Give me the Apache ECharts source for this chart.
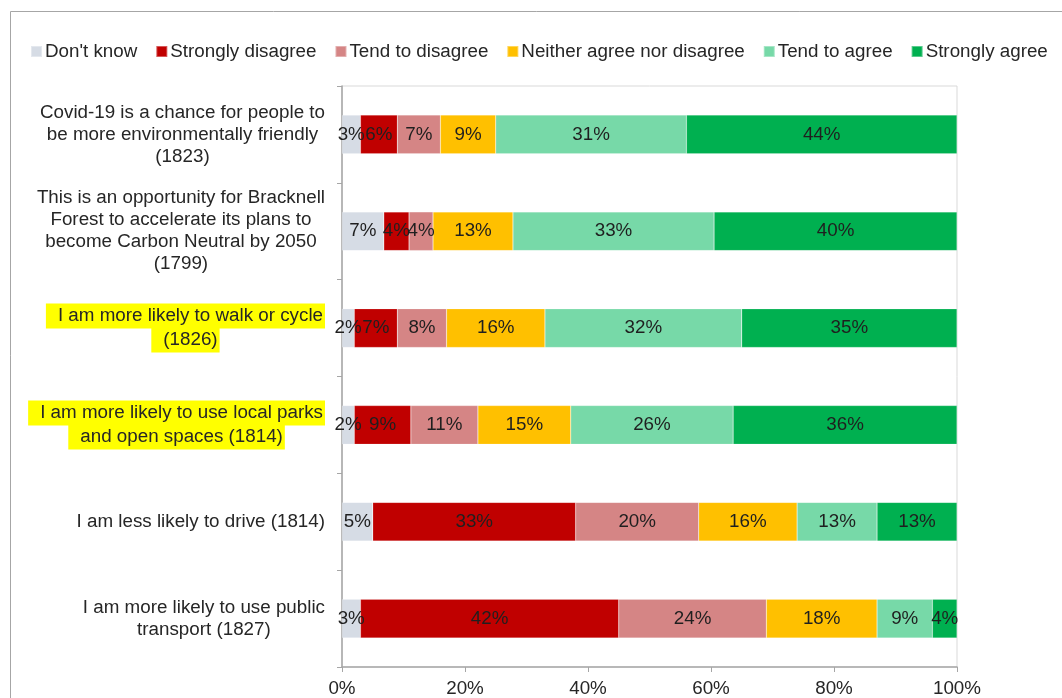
<!DOCTYPE html>
<html>
<head>
<meta charset="utf-8">
<title>Covid-19 attitudes</title>
<script src="https://cdn.jsdelivr.net/npm/echarts@6/dist/echarts.min.js"></script>
<style>
  html, body { margin: 0; padding: 0; background: #fff; }
  #chart { width: 1062px; height: 698px; }
</style>
</head>
<body>
<div id="chart"></div>
<script>
// statements, top to bottom
const statements = [
  "Covid-19 is a chance for people to\nbe more environmentally friendly\n(1823)",
  "This is an opportunity for Bracknell\nForest to accelerate its plans to\nbecome Carbon Neutral by 2050\n(1799)",
  "I am more likely to walk or cycle\n(1826)",
  "I am more likely to use local parks\nand open spaces (1814)",
  "I am less likely to drive (1814)",
  "I am more likely to use public\ntransport (1827)"
];
// rows that are highlighted in yellow
const highlighted = [2, 3];

const responses = ["Don't know", "Strongly disagree", "Tend to disagree",
  "Neither agree nor disagree", "Tend to agree", "Strongly agree"];
const colors = ["#d6dce5", "#c00000", "#d58585", "#ffc000", "#77d9a8", "#00b050"];

// percentages per statement
const dontKnow         = [3, 6.8, 2, 2, 5, 3];
const stronglyDisagree = [6, 4.1, 7, 9.2, 33, 42];
const tendDisagree     = [7, 3.9, 8, 10.9, 20, 24];
const neither          = [9, 13, 16, 15.1, 16, 18];
const tendAgree        = [31, 32.7, 32, 26.4, 13, 9];
const stronglyAgree    = [44, 39.5, 35, 36.4, 13, 4];

const values = [dontKnow, stronglyDisagree, tendDisagree, neither, tendAgree, stronglyAgree];
const xTicks = [0, 20, 40, 60, 80, 100];

const FS = 18.8; // font size used all over
const chart = echarts.init(document.getElementById("chart"));

const option = {
  backgroundColor: "#fff",
  textStyle: { fontFamily: "Liberation Sans, Arial, sans-serif" },
  color: colors,
  graphic: [
    {
      type: "rect",
      shape: { x: 10.5, y: 11.5, width: 1100, height: 800 },
      style: { fill: "none", stroke: "#a6a6a6", lineWidth: 1 },
      silent: true
    }
  ],
  legend: {
    top: 37,
    left: 25,
    itemWidth: 11,
    itemHeight: 11,
    itemGap: 18,
    icon: "rect",
    textStyle: { fontSize: FS, color: "#262626", padding: [0, 0, 0, -2] },
    data: responses
  },
  grid: {
    left: 342,
    right: 105,
    top: 86,
    bottom: 29,
    show: true,
    borderColor: "#d9d9d9",
    borderWidth: 1
  },
  xAxis: {
    type: "value",
    min: xTicks[0],
    max: xTicks[xTicks.length - 1],
    interval: 20,
    splitLine: { show: false },
    axisLine: { show: true, lineStyle: { color: "#a6a6a6", width: 1.5 } },
    axisTick: { show: true, length: 5, lineStyle: { color: "#a6a6a6" } },
    axisLabel: {
      fontSize: FS,
      color: "#262626",
      margin: 12,
      formatter: v => v + "%"
    }
  },
  yAxis: {
    type: "category",
    inverse: true,
    data: statements,
    axisLine: { show: true, lineStyle: { color: "#a6a6a6", width: 1.5 } },
    axisTick: { show: true, length: 5, lineStyle: { color: "#a6a6a6" } },
    axisLabel: {
      margin: 17,
      formatter: (val, idx) => {
        const style = highlighted.indexOf(idx) >= 0 ? "hl" : "t";
        return val.split("\n").map(l => "{" + style + "|" + l + "}").join("\n");
      },
      rich: {
        t: { fontSize: FS, color: "#262626", lineHeight: 22, align: "center" },
        hl: {
          fontSize: FS, color: "#262626", lineHeight: 24, align: "center",
          backgroundColor: "#ffff00", padding: [3, 2, 3, 12]
        }
      }
    }
  },
  series: responses.map((name, i) => ({
    name: name,
    type: "bar",
    stack: "total",
    barWidth: "40%",
    data: values[i],
    itemStyle: { borderColor: "rgba(255,255,255,0.35)", borderWidth: 0.5 },
    label: {
      show: true,
      position: "inside",
      fontSize: FS,
      color: "#1f1f1f",
      formatter: p => Math.round(p.value) + "%"
    }
  }))
};

chart.setOption(option);
</script>
</body>
</html>
